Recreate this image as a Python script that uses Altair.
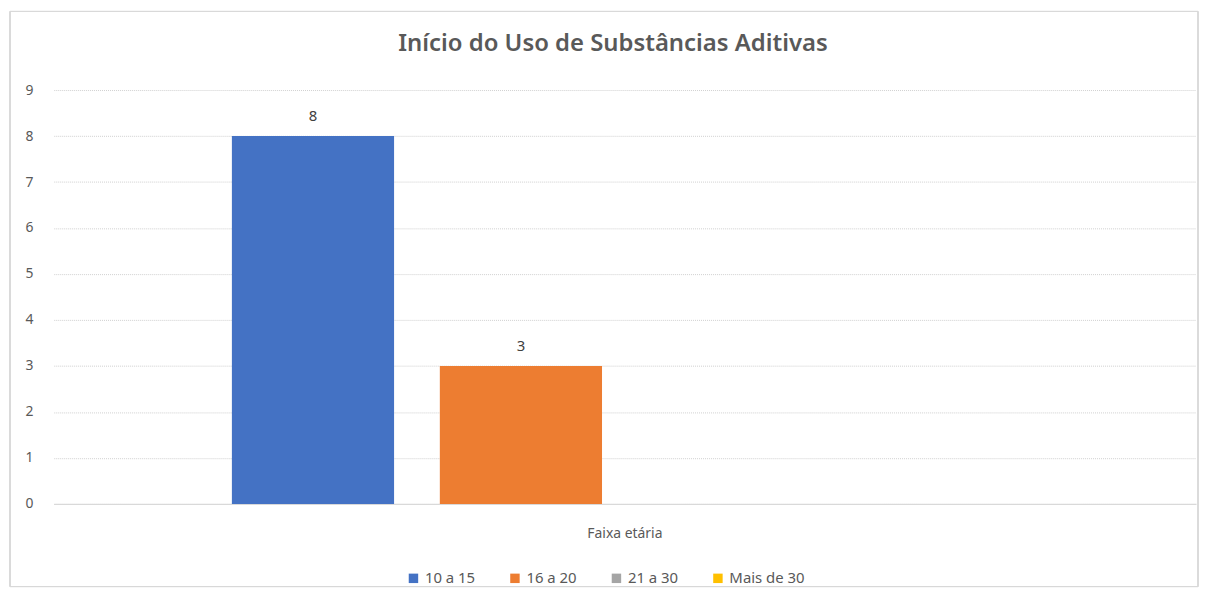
import altair as alt
import pandas as pd

categoria = ["Faixa etária"] * 4
series = ["10 a 15", "16 a 20", "21 a 30", "Mais de  30"]
valores = [8, 3, 0, 0]
cores = ["#4472C4", "#ED7D31", "#A5A5A5", "#FFC000"]

df = pd.DataFrame({"cat": categoria, "serie": series, "valor": valores})

FONT = "Noto Sans"
GRAY = "#595959"

x_enc = alt.X("cat:N", title=None,
              scale=alt.Scale(paddingInner=0, paddingOuter=0.2266),
              axis=alt.Axis(labelAngle=0, labelFontSize=14, labelColor=GRAY, labelFont=FONT,
                            ticks=False, domain=True, domainColor="#D9D9D9", domainWidth=1.2,
                            labelPadding=23, grid=False))
xoff = alt.XOffset("serie:N", sort=series,
                   scale=alt.Scale(paddingInner=0.22, paddingOuter=0))
y_enc = alt.Y("valor:Q", title=None,
              scale=alt.Scale(domain=[0, 9], nice=False),
              axis=alt.Axis(values=list(range(10)), labelFontSize=14, labelColor=GRAY, labelFont=FONT,
                            ticks=False, domain=False, labelPadding=21,
                            gridColor="#D0D0D0", gridDash=[1, 1], gridWidth=1))

color = alt.Color("serie:N", sort=series,
                  scale=alt.Scale(domain=series, range=cores),
                  legend=alt.Legend(title=None, orient="none", legendX=354, legendY=483,
                                    direction="horizontal",
                                    symbolType="square", symbolSize=90, symbolStrokeWidth=0,
                                    labelFontSize=15, labelColor=GRAY, labelFont=FONT,
                                    columnPadding=32, symbolOffset=0, labelOffset=4))

bars = alt.Chart(df).mark_bar(size=163).encode(x=x_enc, xOffset=xoff, y=y_enc, color=color)

labels = alt.Chart(df).transform_filter("datum.valor > 0").mark_text(
    dy=-20, fontSize=15, color="#404040", font=FONT
).encode(x=alt.X("cat:N"), xOffset=alt.XOffset("serie:N", sort=series), y="valor:Q", text="valor:Q")

border = alt.Chart(df).mark_rect(fill=None, stroke="#D9D9D9", strokeWidth=1).encode(
    x=alt.value(-44), x2=alt.value(1150), y=alt.value(-79), y2=alt.value(499)
)

chart = alt.layer(border, bars, labels).properties(
    width=1148, height=416,
    title=alt.TitleParams("Início do Uso de Substâncias Aditivas", fontSize=24, font=FONT,
                          color=GRAY, fontWeight=600, anchor="middle", dx=-12, offset=-45),
    padding={"left": 46, "top": 81, "right": 4, "bottom": 83},
    autosize=alt.AutoSizeParams(type="none"),
).configure(background="white").configure_view(stroke=None)

chart.save("out.html", embed_options={"renderer": "svg", "actions": False})
